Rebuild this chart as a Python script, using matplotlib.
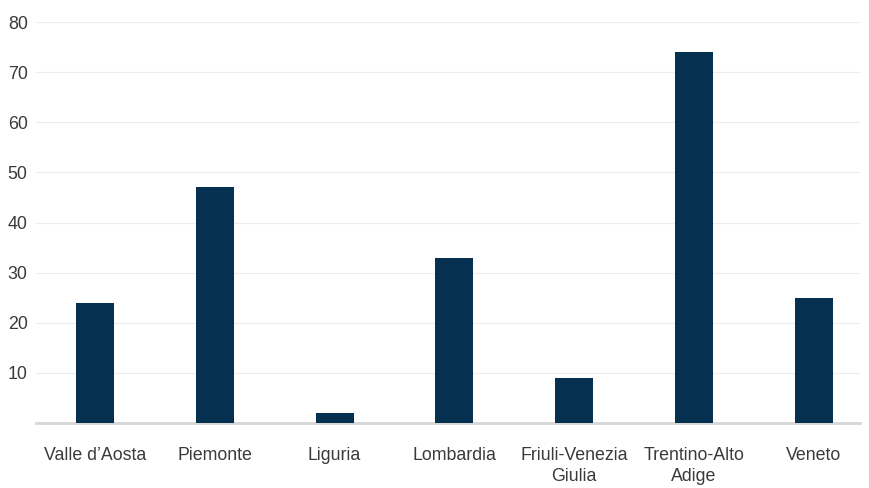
import matplotlib.pyplot as plt
import numpy as np

# data
regions = ['Valle d\u2019Aosta', 'Piemonte', 'Liguria', 'Lombardia',
           'Friuli-Venezia\nGiulia', 'Trentino-Alto\nAdige', 'Veneto']
values = [24, 47, 2, 33, 9, 74, 25]
yticks = [10, 20, 30, 40, 50, 60, 70, 80]

plt.rcParams['font.family'] = ['Liberation Sans', 'DejaVu Sans']

fig = plt.figure(figsize=(8.69, 4.88), dpi=100)
ax = fig.add_axes([0.0414, 0.1332, 0.9482, 0.8217])

x = np.arange(len(regions))
ax.bar(x, values, width=0.317, color='#06304f', zorder=3)

ax.set_xlim(-0.4925, 6.385)
ax.set_ylim(0, 80)
ax.set_yticks(yticks)
ax.set_xticks(x)
ax.set_xticklabels(regions, fontsize=12.8, color='#3a3a3a', linespacing=1.3)
ax.tick_params(axis='y', labelsize=12.8, labelcolor='#3a3a3a', length=0, pad=6)
ax.tick_params(axis='x', length=0, pad=17)

ax.grid(axis='y', color='#ececec', linewidth=0.8, zorder=0)
for side in ['top', 'right', 'left']:
    ax.spines[side].set_visible(False)
ax.spines['bottom'].set_color('#d6d6d6')
ax.spines['bottom'].set_linewidth(2)

fig.savefig('out.png', dpi=100)
